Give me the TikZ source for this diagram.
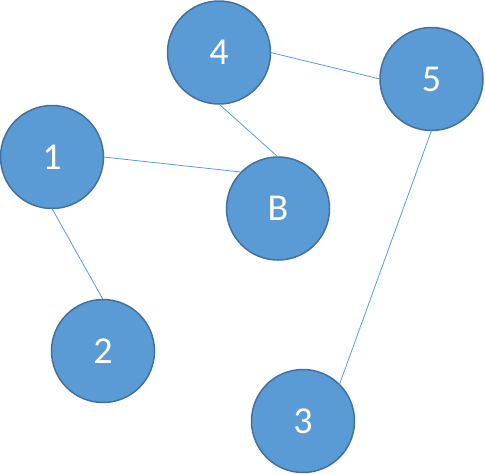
\documentclass[tikz,border=0pt]{standalone}
\usepackage{fontspec}
\setmainfont{Carlito}
\definecolor{fillblue}{HTML}{5B9BD5}
\definecolor{edgeblue}{HTML}{41719C}
\begin{document}
\begin{tikzpicture}[x=1pt,y=-1pt,
  vertex/.style={circle, draw=edgeblue, fill=fillblue, line width=1.5pt, minimum size=103pt, inner sep=0pt, outer sep=0pt, text=white, font=\fontsize{38}{44}\selectfont},
  link/.style={draw=fillblue, line width=0.8pt}]
\useasboundingbox (0,0) rectangle (485,474);
\node[vertex] (n1) at (52,157) {1};
\node[vertex] (n4) at (219,52.5) {4};
\node[vertex] (n5) at (431.5,79) {5};
\node[vertex] (nB) at (278,208.5) {B};
\node[vertex] (n2) at (103,351) {2};
\node[vertex] (n3) at (303,421) {3};
\draw[link] (n1.east) -- (nB.north west);
\draw[link] (n4.south) -- (nB.north);
\draw[link] (n4.east) -- (n5.west);
\draw[link] (n1.south) -- (n2.north);
\draw[link] (n5.south) -- (n3.north east);
\end{tikzpicture}
\end{document}
